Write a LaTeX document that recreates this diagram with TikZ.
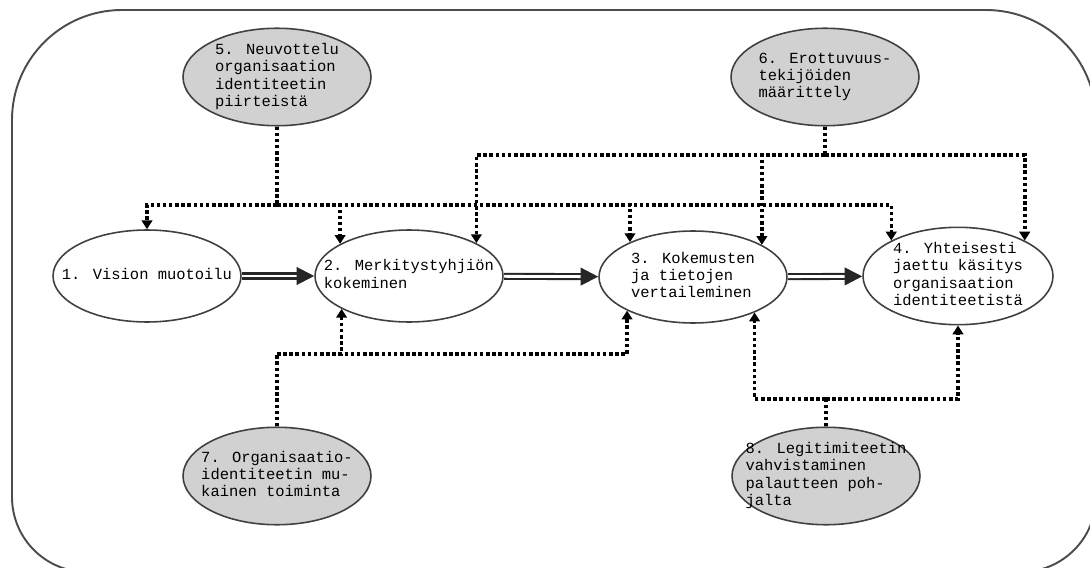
\documentclass[tikz,border=0pt]{standalone}
\usepackage{fontspec}
\setmainfont{Liberation Mono}
\usetikzlibrary{shapes.geometric,arrows.meta}
\newcommand{\inell}[1]{\makebox[2.6cm]{\begin{tabular}{@{}l@{}}#1\end{tabular}}}

\begin{document}
\begin{tikzpicture}[
      x=0.02cm, y=-0.02cm,
      nodes={font=\fontsize{8.8}{9.8}\selectfont, inner sep=0pt},
      stage/.style={ellipse, draw=black!75, line width=0.9pt, fill=white,
        minimum width=3.76cm, minimum height=1.84cm},
      factor/.style={stage, fill=black!18, minimum height=1.95cm},
      dotline/.style={line width=2pt, dash pattern=on 2pt off 1.5pt,
        -{Triangle[length=5pt,width=6pt]}},
      dotplain/.style={line width=2pt, dash pattern=on 2pt off 1.5pt},
      flow/.style={double, double distance=1.6pt, line width=1.2pt, draw=black!85,
        -{Triangle[length=10pt,width=10pt]}},
      frame/.style={draw=black!70, line width=1.1pt}
      ]
  \useasboundingbox (0,0) rectangle (1090,568);
  \clip (0,0) rectangle (1090,568);

  % Frame
  \draw[frame] (554,10) [rounded corners=2.2cm] -- (12,10)
    [rounded corners=1.5cm] -- (12,572) -- (1096,572)
    [rounded corners=2.2cm] -- (1096,10) -- cycle;

  % Define nodes
  \node[stage]  (n1) at (147,276) {\inell{1. Vision muotoilu}};
  \node[stage]  (n2) at (409,276) {\inell{2. Merkitystyhjiön\\kokeminen}};
  \node[stage]  (n3) at (693,277) {\inell{3. Kokemusten\\ja tietojen\\vertaileminen}};
  \node[stage, minimum width=3.8cm, minimum height=1.94cm]
                (n4) at (958,276) {\inell{4. Yhteisesti\\jaettu käsitys\\organisaation\\identiteetistä}};
  \node[factor] (n5) at (277,77)  {\inell{5. Neuvottelu\\organisaation\\identiteetin\\piirteistä}};
  \node[factor] (n6) at (825,77)  {\inell{6. Erottuvuus-\\tekijöiden\\määrittely}};
  \node[factor] (n7) at (277,476) {\inell{7. Organisaatio-\\identiteetin mu-\\kainen toiminta}};
  \node[factor] (n8) at (826,476) {\inell{8. Legitimiteetin\\vahvistaminen\\palautteen poh-\\ jalta}};

  % Junctions
  \coordinate (h5) at (277,205);
  \coordinate (h6) at (825,155);
  \coordinate (h7) at (277,354);
  \coordinate (h8) at (826,399);

  % Connect the nodes
  \draw[flow] (n1) -- (n2);
  \draw[flow] (n2) -- (n3);
  \draw[flow] (n3) -- (n4);

  \draw[dotplain] (n5.south) -- (h5);
  \foreach \t in {n1.north, n2.155.7, n3.151.6, n4.152.1}
    \draw[dotline] (h5) -| (\t);

  \draw[dotplain] (n6.south) -- (h6);
  \foreach \t in {n2.26.4, n3.25.7, n4.28.6}
    \draw[dotline] (h6) -| (\t);

  \draw[dotplain] (n7.north) -- (h7);
  \foreach \t in {n2.206.4, n3.207.1}
    \draw[dotline] (h7) -| (\t);

  \draw[dotplain] (n8.north) -- (h8);
  \foreach \t in {n3.330.8, n4.south}
    \draw[dotline] (h8) -| (\t);

\end{tikzpicture}
\end{document}
